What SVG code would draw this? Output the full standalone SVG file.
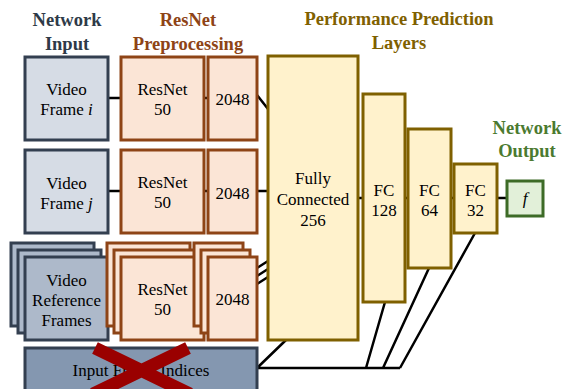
<svg xmlns="http://www.w3.org/2000/svg" width="563" height="389" viewBox="0 0 563 389">
<style>
text{font-family:"Liberation Serif","Times New Roman",serif;font-size:17px;text-anchor:middle;fill:#000}
.title{font-weight:bold;font-size:18.5px}
.vid{fill:#d6dce5;stroke:#333f50;stroke-width:3}
.ref{fill:#adb9ca;stroke:#333f50;stroke-width:3}
.idx{fill:#8497b0;stroke:#333f50;stroke-width:3}
.res{fill:#fbe5d6;stroke:#8e4416;stroke-width:3}
.fc{fill:#fff2cc;stroke:#7f6000;stroke-width:3}
.out{fill:#e2f0d9;stroke:#3d6b27;stroke-width:3}
.c{stroke:#000;stroke-width:2.5;fill:none}
</style>
<rect width="563" height="389" fill="#fff"/>
<g id="titles">
<text class="title" x="67" y="25.5" style="fill:#2e3a48">Network</text>
<text class="title" x="67" y="49.5" style="fill:#2e3a48">Input</text>
<text class="title" x="188" y="25.5" style="fill:#8e4416">ResNet</text>
<text class="title" x="188" y="49.5" style="fill:#8e4416">Preprocessing</text>
<text class="title" x="399" y="25" style="fill:#7f6000">Performance Prediction</text>
<text class="title" x="399" y="49" style="fill:#7f6000">Layers</text>
<text class="title" x="527" y="134" style="fill:#4b7a30">Network</text>
<text class="title" x="527" y="157" style="fill:#4b7a30">Output</text>
</g>
<g id="connectors">
<path class="c" d="M108 98H121M204 98H208M257 95L268 109"/>
<path class="c" d="M108 191H121M204 191H208M257 191H268"/>
<path class="c" d="M108 291H121M108 298H121M204 298H208"/>
<path class="c" d="M257 268L268 261M257 276L268 269M257 284L268 277"/>
<path class="c" d="M358 198H363M405 198H408M451 198H454M497 198H507"/>
<path class="c" d="M257 368H400M257 368L286 340M366 368L385 302M383 368L429 268M400 368L475 233"/>
</g>
<g id="video-frame-i">
<rect class="vid" x="25" y="57" width="83" height="83"/>
<text x="66.5" y="95">Video</text>
<text x="66.5" y="115">Frame <tspan font-style="italic">i</tspan></text>
</g>
<g id="resnet-i">
<rect class="res" x="121" y="57" width="83" height="83"/>
<text x="162.5" y="95">ResNet</text>
<text x="162.5" y="115">50</text>
</g>
<g id="feat-i">
<rect class="res" x="208" y="57" width="49" height="83"/>
<text x="232.5" y="105">2048</text>
</g>
<g id="video-frame-j">
<rect class="vid" x="25" y="150" width="83" height="83"/>
<text x="66.5" y="189">Video</text>
<text x="66.5" y="209">Frame <tspan font-style="italic">j</tspan></text>
</g>
<g id="resnet-j">
<rect class="res" x="121" y="150" width="83" height="83"/>
<text x="162.5" y="188">ResNet</text>
<text x="162.5" y="208">50</text>
</g>
<g id="feat-j">
<rect class="res" x="208" y="150" width="49" height="83"/>
<text x="232.5" y="199">2048</text>
</g>
<g id="video-reference-frames">
<rect class="ref" x="11" y="243" width="83" height="83"/>
<rect class="ref" x="18" y="250" width="83" height="83"/>
<rect class="ref" x="25" y="257" width="83" height="83"/>
<text x="66.5" y="286">Video</text>
<text x="66.5" y="306">Reference</text>
<text x="66.5" y="326">Frames</text>
</g>
<g id="resnet-ref">
<rect class="res" x="107" y="243" width="83" height="83"/>
<rect class="res" x="114" y="250" width="83" height="83"/>
<rect class="res" x="121" y="257" width="83" height="83"/>
<text x="162.5" y="295">ResNet</text>
<text x="162.5" y="315">50</text>
</g>
<g id="feat-ref">
<rect class="res" x="194" y="243" width="49" height="83"/>
<rect class="res" x="201" y="250" width="49" height="83"/>
<rect class="res" x="208" y="257" width="49" height="83"/>
<text x="232.5" y="305">2048</text>
</g>
<g id="input-frame-indices">
<rect class="idx" x="25" y="348" width="232" height="50"/>
<text x="141" y="376">Input Frame Indices</text>
<path d="M95 348L190 394M188 348L93 394" stroke="#9a0000" stroke-width="13" fill="none"/>
</g>
<g id="fc256">
<rect class="fc" x="268" y="56" width="90" height="284"/>
<text x="313" y="184">Fully</text>
<text x="313" y="205">Connected</text>
<text x="313" y="226">256</text>
</g>
<g id="fc128">
<rect class="fc" x="363" y="94" width="42" height="208"/>
<text x="384" y="196">FC</text>
<text x="384" y="216">128</text>
</g>
<g id="fc64">
<rect class="fc" x="408" y="129" width="43" height="139"/>
<text x="429.5" y="196">FC</text>
<text x="429.5" y="216">64</text>
</g>
<g id="fc32">
<rect class="fc" x="454" y="164" width="43" height="69"/>
<text x="475.5" y="196">FC</text>
<text x="475.5" y="216">32</text>
</g>
<g id="output-f">
<rect class="out" x="507" y="181" width="36" height="35"/>
<text x="525" y="204" font-style="italic">f</text>
</g>
</svg>
